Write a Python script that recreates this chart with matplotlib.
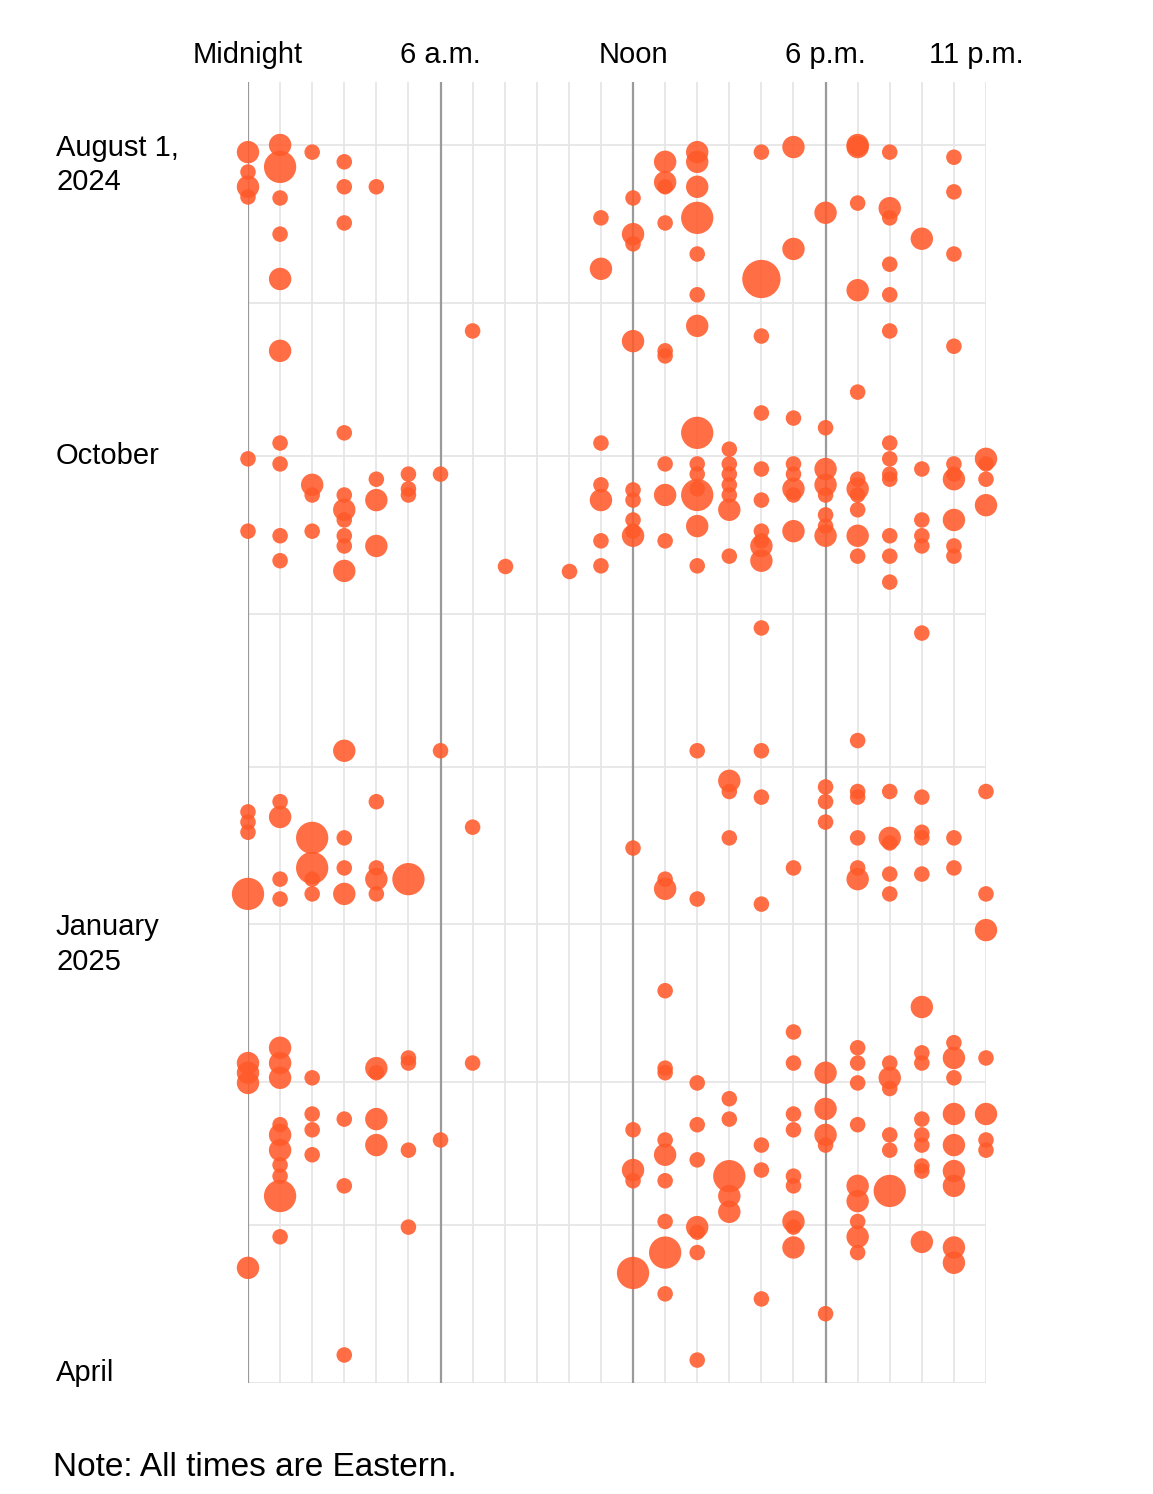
import matplotlib
matplotlib.use("Agg")
from matplotlib import pyplot as plt

# days after Aug 1, 2024, and dot size class (1 small, 2 medium, 3 large, 4 extra) per hour column
days = {
    0: [1.4, 5.3, 8.2, 10.2, 61.6, 75.8, 130.9, 132.9, 134.9, 147, 180.2, 182.1, 184.1, 220.4],
    1: [0, 4.3, 10.4, 17.5, 26.3, 40.4, 58.5, 62.6, 76.7, 81.6, 128.9, 131.9, 144.1, 148, 177.2, 180.2,
        183.1, 192.3, 194.3, 197.3, 200.2, 202.4, 206.3, 214.3],
    2: [1.4, 66.7, 68.7, 75.8, 136, 141.9, 144.1, 147, 183.1, 190.2, 193.3, 198.2],
    3: [3.3, 8.2, 15.3, 56.5, 68.7, 71.6, 73.6, 76.7, 78.7, 83.6, 118.9, 136, 141.9, 147, 191.2, 204.3, 237.5],
    4: [8.2, 65.6, 69.7, 78.7, 128.9, 141.9, 144.1, 147, 181.2, 182.1, 191.2, 196.3],
    5: [64.6, 67.5, 68.7, 144.1, 179.2, 180.2, 197.3, 212.4],
    6: [64.6, 118.9, 195.3],
    7: [36.5, 133.9, 180.2],
    8: [82.6],
    10: [83.6],
    11: [14.3, 24.3, 58.5, 66.7, 69.7, 77.7, 82.6],
    12: [10.4, 17.5, 19.4, 38.5, 67.7, 69.7, 73.6, 75.8, 76.7, 138, 193.3, 201.2, 203.3, 221.4],
    13: [3.3, 7.3, 8.2, 15.3, 40.4, 41.4, 62.6, 68.7, 77.7, 144.1, 146, 166, 181.2, 182.1, 195.3, 198.2,
         203.3, 211.3, 217.4, 225.5],
    14: [1.4, 3.3, 8.2, 14.3, 21.4, 29.4, 35.5, 56.5, 62.6, 64.6, 67.5, 68.7, 74.8, 82.6, 118.9, 148,
         184.1, 192.3, 199.2, 212.4, 213.4, 217.4, 238.5],
    15: [59.7, 62.6, 64.6, 66.7, 68.7, 71.6, 80.7, 124.8, 126.9, 136, 187.2, 191.2, 202.4, 206.3, 209.4],
    16: [1.4, 26.3, 37.5, 52.6, 63.6, 69.7, 75.8, 77.7, 78.7, 81.6, 94.8, 118.9, 128, 149, 196.3, 201.2, 226.5],
    17: [0.4, 20.4, 53.6, 62.6, 64.6, 67.5, 68.7, 75.8, 141.9, 174.1, 180.2, 190.2, 193.3, 202.4, 204.3,
         211.3, 212.4, 216.4],
    18: [13.3, 55.5, 63.6, 66.7, 68.7, 72.6, 74.8, 76.7, 126, 128.9, 132.9, 182.1, 189.2, 194.3, 196.3, 229.4],
    19: [0, 0.4, 11.4, 28.5, 48.5, 65.6, 67.5, 68.7, 71.6, 76.7, 80.7, 116.9, 126.9, 128, 136, 141.9, 144.1,
         177.2, 180.2, 184.1, 192.3, 204.3, 207.3, 211.3, 214.3, 217.4],
    20: [1.4, 12.4, 14.3, 23.4, 29.4, 36.5, 58.5, 61.6, 64.6, 65.6, 76.7, 80.7, 85.8, 126.9, 136, 137, 143.1,
         147, 180.2, 183.1, 185.2, 194.3, 197.3, 205.3],
    21: [18.4, 95.8, 63.6, 73.6, 76.7, 78.7, 128, 134.9, 136, 143.1, 169.2, 178.2, 180.2, 191.2, 194.3, 196.3,
         200.4, 201.4, 215.3],
    22: [2.4, 9.2, 21.4, 39.5, 62.6, 64.6, 65.6, 73.6, 78.7, 80.7, 136, 141.9, 176.2, 179.2, 183.1, 190.2,
         196.3, 201.4, 204.3, 216.4, 219.4],
    23: [61.6, 62.6, 65.6, 70.7, 126.9, 147, 154.1, 179.2, 190.2, 195.3, 197.3],
}
sizes = {
    0: [2, 1, 2, 1, 1, 1, 1, 1, 1, 3, 2, 2, 2, 2],
    1: [2, 3, 1, 1, 2, 2, 1, 1, 1, 1, 1, 2, 1, 1, 2, 2, 2, 1, 2, 2, 1, 1, 3, 1],
    2: [1, 2, 1, 1, 3, 3, 1, 1, 1, 1, 1, 1],
    3: [1, 1, 1, 1, 1, 2, 1, 1, 1, 2, 2, 1, 1, 2, 1, 1, 1],
    4: [1, 1, 2, 2, 1, 1, 2, 1, 2, 1, 2, 2],
    5: [1, 1, 1, 3, 1, 1, 1, 1],
    6: [1, 1, 1],
    7: [1, 1, 1],
    8: [1],
    10: [1],
    11: [1, 2, 1, 1, 2, 1, 1],
    12: [1, 2, 1, 2, 1, 1, 1, 1, 2, 1, 1, 2, 1, 3],
    13: [2, 2, 1, 1, 1, 1, 1, 2, 1, 1, 2, 1, 1, 1, 1, 2, 1, 1, 3, 1],
    14: [2, 2, 2, 3, 1, 1, 2, 3, 1, 1, 1, 3, 2, 1, 1, 1, 1, 1, 1, 2, 1, 1, 1],
    15: [1, 1, 1, 1, 1, 2, 1, 2, 1, 1, 1, 1, 3, 2, 2],
    16: [1, 4, 1, 1, 1, 1, 1, 1, 2, 2, 1, 1, 1, 1, 1, 1, 1],
    17: [2, 2, 1, 1, 1, 2, 1, 2, 1, 1, 1, 1, 1, 1, 1, 2, 1, 2],
    18: [2, 1, 2, 2, 1, 1, 1, 2, 1, 1, 1, 2, 2, 2, 1, 1],
    19: [2, 2, 1, 2, 1, 1, 2, 1, 1, 2, 1, 1, 1, 1, 1, 1, 2, 1, 1, 1, 1, 2, 2, 1, 2, 1],
    20: [1, 2, 1, 1, 1, 1, 1, 1, 1, 1, 1, 1, 1, 1, 2, 1, 1, 1, 1, 2, 1, 1, 1, 3],
    21: [2, 1, 1, 1, 1, 1, 1, 1, 1, 1, 2, 1, 1, 1, 1, 1, 1, 1, 2],
    22: [1, 1, 1, 1, 1, 1, 2, 2, 1, 1, 1, 1, 1, 2, 1, 2, 2, 2, 2, 2, 2],
    23: [2, 1, 1, 2, 1, 1, 2, 1, 2, 1, 1],
}
month_days = [0, 31, 61, 92, 122, 153, 184, 212, 243]
month_labels = {0: "August 1,\n2024", 61: "October", 153: "January\n2025", 243: "April"}
hour_labels = {0: "Midnight", 6: "6 a.m.", 12: "Noon", 18: "6 p.m.", 23: "11 p.m."}
area = {1: 125, 2: 260, 3: 540, 4: 760}

plt.rcParams['font.family'] = ['Liberation Sans', 'DejaVu Sans']
W, H = 1153, 1494
fig = plt.figure(figsize=(W / 100, H / 100), dpi=100)
fig.set_facecolor('white')
top_px, bot_px = 82, 1383
ax = fig.add_axes([248 / W, 1 - bot_px / H, (986 - 248) / W, (bot_px - top_px) / H])
px_per_day = (1383 - 145) / 243
ax.set_xlim(0, 23)
ax.set_ylim(243, -(145 - top_px) / px_per_day)
ax.axis('off')

for h in range(24):
    dark = h in (0, 6, 12, 18)
    ax.axvline(h, color='#9a9a9a' if dark else '#e6e6e6', lw=1.6 if dark else 1.3, zorder=1)
for d in month_days:
    ax.plot([0, 23], [d, d], color='#e6e6e6', lw=1.3, zorder=0)

for h in days:
    ax.scatter([h] * len(days[h]), days[h], s=[area[k] for k in sizes[h]],
               color='#ff5a2a', alpha=0.88, linewidths=0, zorder=3, clip_on=False)

# manual nudges so the labels sit where the reference puts them
label_shift = {0: 20, 61: 0, 153: 20, 243: -10}
for d, lab in month_labels.items():
    yy = 1 - (145 + d * px_per_day + label_shift[d]) / H
    fig.text(56 / W, yy, lab, fontsize=21, va='center', ha='left', linespacing=1.3)
for h, lab in hour_labels.items():
    xx = (248 + h * (986 - 248) / 23) / W
    if h == 23:
        xx -= 10 / W
    fig.text(xx, 1 - 55 / H, lab, fontsize=21, ha='center', va='center')

fig.text(53 / W, 1 - 1467 / H, "Note: All times are Eastern.", fontsize=24, va='center')

fig.savefig('out.png', dpi=100)
